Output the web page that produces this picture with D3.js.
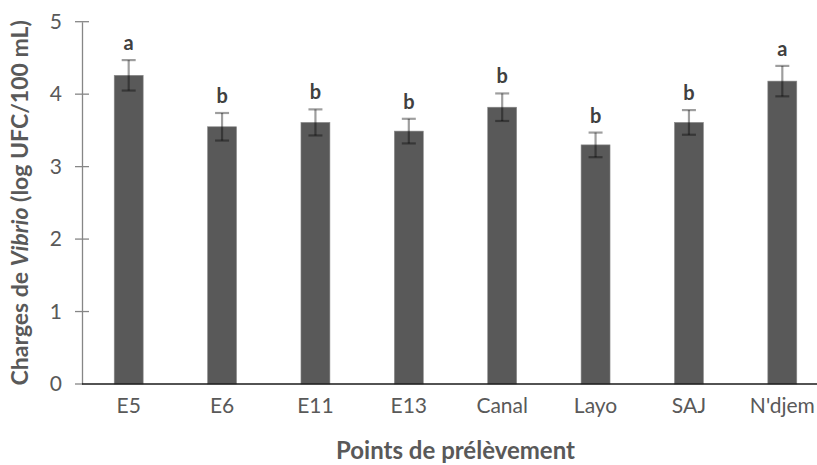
<!DOCTYPE html>
<html>
<head>
<meta charset="utf-8">
<script src="https://cdn.jsdelivr.net/npm/d3@7"></script>
<style>
  body { margin: 0; background: #fff; }
  text { font-family: Lato, "Open Sans", sans-serif; }
</style>
</head>
<body>
<div id="chart"></div>
<script>
// data
var sites = ["E5", "E6", "E11", "E13", "Canal", "Layo", "SAJ", "N'djem"];
var means = [4.26, 3.55, 3.61, 3.49, 3.82, 3.30, 3.61, 4.18];
var errs = [0.21, 0.19, 0.18, 0.17, 0.19, 0.17, 0.17, 0.21];
var groups = ["a", "b", "b", "b", "b", "b", "b", "a"];
var yTicks = [0, 1, 2, 3, 4, 5];

var W = 817, H = 465;
var plotL = 82, plotR = 829, plotT = 21.7, plotB = 384;

var svg = d3.select("#chart")
  .append("svg")
    .attr("width", W)
    .attr("height", H);

var x = d3.scaleBand()
  .domain(sites)
  .range([plotL, plotR])
  .padding(0);

var y = d3.scaleLinear()
  .domain([0, 5])
  .range([plotB, plotT]);

var barW = x.bandwidth() * 0.31;

// y axis
var yAxis = svg.append("g")
  .attr("transform", "translate(" + plotL + ",0)")
  .call(d3.axisLeft(y).tickValues(yTicks).tickFormat(d3.format("d")).tickSize(0).tickPadding(20));
yAxis.select(".domain").attr("stroke", "#868686").attr("stroke-width", 1.3);
yAxis.selectAll("text")
  .style("font-size", "21px")
  .attr("fill", "#595959");

// cross tick marks on y axis
svg.append("g").selectAll("line")
  .data(yTicks)
  .enter()
  .append("line")
    .attr("x1", plotL - 7)
    .attr("x2", function(d) { return d === 0 ? plotL : plotL + 7; })
    .attr("y1", function(d) { return y(d); })
    .attr("y2", function(d) { return y(d); })
    .attr("stroke", "#868686")
    .attr("stroke-width", 1.3);

// bars
svg.append("g").selectAll("rect")
  .data(sites)
  .enter()
  .append("rect")
    .attr("x", function(d) { return x(d) + x.bandwidth() / 2 - barW / 2; })
    .attr("y", function(d, i) { return y(means[i]); })
    .attr("width", barW)
    .attr("height", function(d, i) { return y(0) - y(means[i]); })
    .attr("fill", "#595959")
    .attr("stroke", "#8a8a8a")
    .attr("stroke-width", 0.6);

// error bars
var eb = svg.append("g")
  .attr("stroke", "rgba(0,0,0,0.38)")
  .attr("stroke-width", 2.2)
  .attr("fill", "none");

sites.forEach(function(s, i) {
  var cx = x(s) + x.bandwidth() / 2;
  eb.append("line")
    .attr("x1", cx).attr("x2", cx)
    .attr("y1", y(means[i] - errs[i]))
    .attr("y2", y(means[i] + errs[i]));
  eb.append("line")
    .attr("x1", cx - 7).attr("x2", cx + 7)
    .attr("y1", y(means[i] + errs[i]))
    .attr("y2", y(means[i] + errs[i]));
  eb.append("line")
    .attr("x1", cx - 7).attr("x2", cx + 7)
    .attr("y1", y(means[i] - errs[i]))
    .attr("y2", y(means[i] - errs[i]));
});

// significance letters
svg.append("g").selectAll("text")
  .data(sites)
  .enter()
  .append("text")
    .attr("x", function(d) { return x(d) + x.bandwidth() / 2; })
    .attr("y", function(d, i) { return y(means[i] + errs[i]) - 10; })
    .attr("text-anchor", "middle")
    .style("font-size", "20px")
    .style("font-weight", "bold")
    .attr("fill", "#404040")
    .text(function(d, i) { return groups[i]; });

// x axis
var xAxis = svg.append("g")
  .attr("transform", "translate(0," + plotB + ")")
  .call(d3.axisBottom(x).tickSize(0).tickPadding(14));
xAxis.select(".domain").remove();
xAxis.selectAll("text")
  .style("font-size", "21px")
  .attr("fill", "#595959");

svg.append("line")
  .attr("x1", plotL)
  .attr("x2", W)
  .attr("y1", plotB)
  .attr("y2", plotB)
  .attr("stroke", "#1a1a1a")
  .attr("stroke-width", 1.5);

// axis titles
svg.append("text")
  .attr("x", (plotL + plotR) / 2)
  .attr("y", 459)
  .attr("text-anchor", "middle")
  .style("font-size", "24px")
  .style("font-weight", "bold")
  .attr("fill", "#595959")
  .text("Points de prélèvement");

var yl = svg.append("text")
  .attr("transform", "translate(28," + ((plotT + plotB) / 2) + ") rotate(-90)")
  .attr("text-anchor", "middle")
  .style("font-size", "23px")
  .style("font-weight", "bold")
  .attr("fill", "#595959");
yl.append("tspan").text("Charges de ");
yl.append("tspan").style("font-style", "italic").text("Vibrio");
yl.append("tspan").text(" (log UFC/100 mL)");
</script>
</body>
</html>
